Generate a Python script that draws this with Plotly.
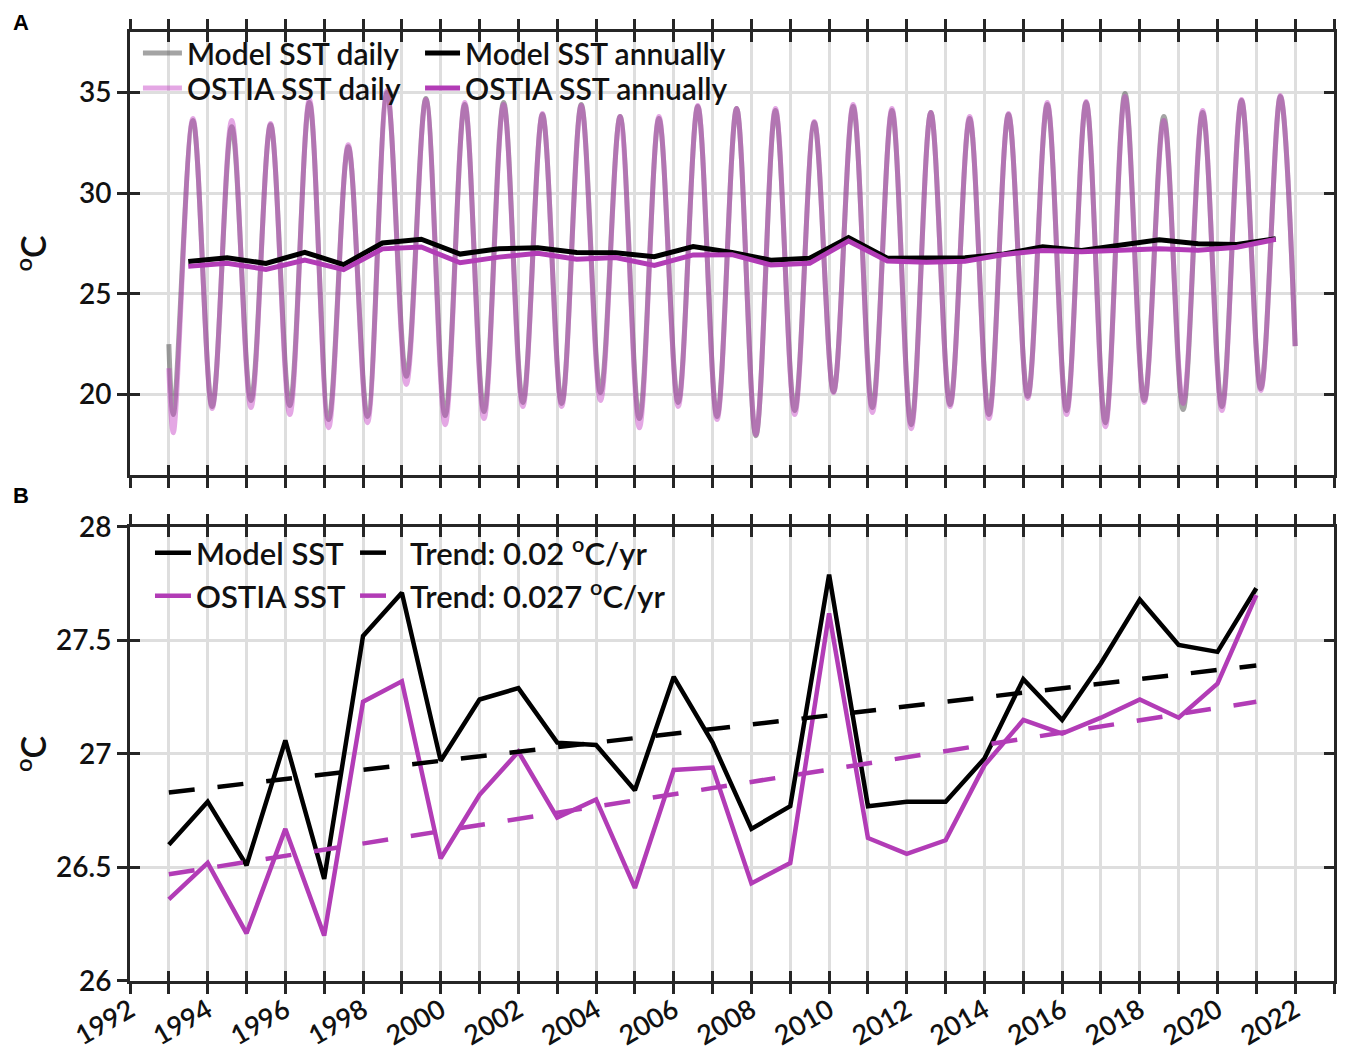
import plotly.graph_objects as go

# ---------------- data ----------------
years = list(range(1993, 2022))

model_annual = [26.60, 26.79, 26.51, 27.06, 26.45, 27.52, 27.71, 26.97, 27.24, 27.29,
                27.05, 27.04, 26.84, 27.34, 27.05, 26.67, 26.77, 27.79, 26.77, 26.79,
                26.79, 26.98, 27.33, 27.15, 27.40, 27.68, 27.48, 27.45, 27.73]
ostia_annual = [26.36, 26.52, 26.21, 26.67, 26.20, 27.23, 27.32, 26.54, 26.82, 27.01,
                26.72, 26.80, 26.41, 26.93, 26.94, 26.43, 26.52, 27.62, 26.63, 26.56,
                26.62, 26.95, 27.15, 27.09, 27.16, 27.24, 27.16, 27.31, 27.70]

trend_years = [1993, 2021]
model_trend = [26.83, 27.39]
ostia_trend = [26.47, 27.23]

# daily series: winter minimum and summer maximum of every year
daily_end_years = [1993.0, 2022.0]
model_daily_ends = [22.5, 22.4]
ostia_daily_ends = [21.3, 22.4]
model_daily_min = [19.0, 19.4, 19.7, 19.45, 18.75, 18.9, 20.9, 18.95, 19.15, 19.6,
                   19.55, 20.1, 18.8, 19.6, 18.9, 17.95, 19.2, 20.15, 19.35, 18.5,
                   19.5, 19.0, 19.9, 19.2, 18.6, 19.7, 19.25, 19.4, 20.3]
model_daily_max = [33.6, 33.3, 33.4, 34.5, 32.3, 35.0, 34.7, 34.4, 34.5, 33.9,
                   34.4, 33.8, 33.7, 34.3, 34.2, 34.1, 33.5, 34.3, 34.1, 34.0,
                   33.7, 33.9, 34.4, 34.5, 34.95, 33.8, 34.0, 34.6, 34.8]
ostia_daily_min = [18.1, 19.3, 19.35, 19.0, 18.35, 18.6, 20.5, 18.5, 18.8, 19.4,
                   19.4, 19.7, 18.35, 19.4, 18.75, 18.0, 19.0, 20.1, 19.1, 18.3,
                   19.4, 18.8, 19.8, 19.0, 18.4, 19.6, 19.55, 19.2, 20.2]
ostia_daily_max = [33.7, 33.6, 33.45, 34.65, 32.4, 35.1, 34.65, 34.5, 34.4, 33.95,
                   34.35, 33.8, 33.8, 34.35, 34.2, 34.2, 33.55, 34.4, 34.2, 34.0,
                   33.8, 33.95, 34.5, 34.55, 34.8, 33.6, 34.1, 34.65, 34.85]
MIN_DOY = 42    # day of year of the winter minimum
MAX_DOY = 226   # day of year of the summer maximum

x_label_years = list(range(1992, 2023, 2))
x_label_text = [str(v) for v in x_label_years]
yA_ticks = [20, 25, 30, 35]
yB_ticks = [26, 26.5, 27, 27.5, 28]
yB_text = ["26", "26.5", "27", "27.5", "28"]


def daily_series(mins, maxs, ends):
    xs = [daily_end_years[0]]
    ys = [ends[0]]
    for yr, lo, hi in zip(years, mins, maxs):
        xs += [yr + MIN_DOY / 365.25, yr + MAX_DOY / 365.25]
        ys += [lo, hi]
    xs.append(daily_end_years[1])
    ys.append(ends[1])
    return xs, ys


# ---------------- styles ----------------
FONT = "Lato"
AX = "#262626"
GRID = "#dedede"
PURPLE = "#b23cb6"
TXT = "#111111"

fig = go.Figure()

mx, my = daily_series(model_daily_min, model_daily_max, model_daily_ends)
ox, oy = daily_series(ostia_daily_min, ostia_daily_max, ostia_daily_ends)
mid_years = [y + 0.5 for y in years]

fig.add_trace(go.Scatter(x=mx, y=my, mode="lines", name="Model SST daily",
                         line=dict(color="rgba(90,90,90,0.55)", width=5, shape="spline", smoothing=1),
                         xaxis="x", yaxis="y", legend="legend"))
fig.add_trace(go.Scatter(x=ox, y=oy, mode="lines", name="OSTIA SST daily",
                         line=dict(color="rgba(195,60,195,0.45)", width=5, shape="spline", smoothing=1),
                         xaxis="x", yaxis="y", legend="legend3"))
fig.add_trace(go.Scatter(x=mid_years, y=model_annual, mode="lines", name="Model SST annually",
                         line=dict(color="black", width=5), xaxis="x", yaxis="y", legend="legend2"))
fig.add_trace(go.Scatter(x=mid_years, y=ostia_annual, mode="lines", name="OSTIA SST annually",
                         line=dict(color=PURPLE, width=5), xaxis="x", yaxis="y", legend="legend4"))

fig.add_trace(go.Scatter(x=years, y=model_annual, mode="lines", name="Model SST",
                         line=dict(color="black", width=4.5), xaxis="x2", yaxis="y2",
                         legend="legend5"))
fig.add_trace(go.Scatter(x=years, y=ostia_annual, mode="lines", name="OSTIA SST",
                         line=dict(color=PURPLE, width=4.5), xaxis="x2", yaxis="y2",
                         legend="legend7"))
fig.add_trace(go.Scatter(x=trend_years, y=model_trend, mode="lines", name="Trend: 0.02 <sup>o</sup>C/yr",
                         line=dict(color="black", width=4.5, dash="26px,23px"), xaxis="x2", yaxis="y2",
                         legend="legend6"))
fig.add_trace(go.Scatter(x=trend_years, y=ostia_trend, mode="lines", name="Trend: 0.027 <sup>o</sup>C/yr",
                         line=dict(color=PURPLE, width=4.5, dash="26px,23px"), xaxis="x2", yaxis="y2",
                         legend="legend8"))

# invisible helpers so the overlay axes (inner tick halves) are drawn
for xa, ya in [("x3", "y"), ("x", "y3"), ("x4", "y2"), ("x2", "y4")]:
    fig.add_trace(go.Scatter(x=[None], y=[None], xaxis=xa, yaxis=ya, showlegend=False,
                             hoverinfo="skip"))

tickfont = dict(family=FONT, size=28, color=TXT, weight=600)


def xaxis(anchor, labels, overlay=None):
    side = "inside" if overlay else "outside"
    d = dict(range=[1992, 2023], tickmode="array", tickvals=x_label_years,
             ticktext=x_label_text, showticklabels=labels, tickangle=-30,
             ticks=side, ticklen=10, tickwidth=3, tickcolor=AX, mirror="allticks",
             showline=True, linewidth=3, linecolor=AX, zeroline=False,
             tickfont=tickfont, anchor=anchor,
             minor=dict(tick0=1993, dtick=2, ticks=side, ticklen=10, tickwidth=3,
                        tickcolor=AX, showgrid=not overlay, gridcolor=GRID, gridwidth=3))
    if overlay:
        d.update(overlaying=overlay, showgrid=False, showticklabels=False)
    else:
        d.update(showgrid=True, gridcolor=GRID, gridwidth=3)
    return d


def yaxis(anchor, rng, vals, text, domain=None, overlay=None):
    d = dict(range=rng, tickmode="array", tickvals=vals, ticktext=text,
             ticklen=10, tickwidth=3, tickcolor=AX, mirror="allticks",
             showline=True, linewidth=3, linecolor=AX, zeroline=False,
             tickfont=tickfont, anchor=anchor)
    if overlay:
        d.update(overlaying=overlay, ticks="inside", showgrid=False, showticklabels=False)
    else:
        d.update(ticks="outside", showgrid=True, gridcolor=GRID, gridwidth=3, domain=domain)
    return d


domA = [0.5332, 1.0]
domB = [0.0, 0.4784]
legA = dict(family=FONT, size=30, color=TXT, weight=600)
legB = dict(family=FONT, size=31, color=TXT, weight=600)


def leg(x, y, font, iw):
    return dict(x=x, y=y, xanchor="left", yanchor="middle", bgcolor="rgba(0,0,0,0)",
                font=font, itemwidth=iw)


xaB = xaxis("y2", True)
xaB["ticklabelstandoff"] = -10
xaB["tickfont"] = dict(family=FONT, size=27, color=TXT, weight=600)

letter_font = dict(family="Liberation Sans", size=22, color="black")
unit_font = dict(family=FONT, size=34, color=TXT, weight=600)

fig.update_layout(
    width=1337, height=1047,
    margin=dict(l=122, r=11, t=24, b=74, autoexpand=False),
    paper_bgcolor="white", plot_bgcolor="white",
    showlegend=True,
    xaxis=xaxis("y", False),
    yaxis=yaxis("x", [16, 38], yA_ticks, [str(v) for v in yA_ticks], domain=domA),
    xaxis2=xaB,
    yaxis2=yaxis("x2", [26, 28], yB_ticks, yB_text, domain=domB),
    xaxis3=xaxis("y", False, overlay="x"),
    yaxis3=yaxis("x", [16, 38], yA_ticks, None, overlay="y"),
    xaxis4=xaxis("y2", False, overlay="x2"),
    yaxis4=yaxis("x2", [26, 28], yB_ticks, None, overlay="y2"),
    legend=leg(0.0066, 0.9779, legA, 39),
    legend2=leg(0.2409, 0.9779, legA, 35),
    legend3=leg(0.0066, 0.9410, legA, 39),
    legend4=leg(0.2409, 0.9410, legA, 35),
    legend5=leg(0.0166, 0.4510, legB, 36),
    legend6=leg(0.1869, 0.4510, legB, 45),
    legend7=leg(0.0166, 0.4057, legB, 36),
    legend8=leg(0.1869, 0.4057, legB, 45),
    annotations=[
        dict(text="<b>A</b>", x=-0.0905, y=1.0245, xref="paper", yref="paper", showarrow=False,
             xanchor="center", yanchor="top", borderpad=0, font=letter_font),
        dict(text="<b>B</b>", x=-0.0905, y=0.512, xref="paper", yref="paper", showarrow=False,
             xanchor="center", yanchor="middle", borderpad=0, font=letter_font),
        dict(text="<sup>o</sup>C", x=-0.0822, y=0.7666, xref="paper", yref="paper", showarrow=False,
             textangle=-90, xanchor="center", yanchor="middle", borderpad=0, font=unit_font),
        dict(text="<sup>o</sup>C", x=-0.0822, y=0.2392, xref="paper", yref="paper", showarrow=False,
             textangle=-90, xanchor="center", yanchor="middle", borderpad=0, font=unit_font),
    ],
)

fig.write_html("out.html")
